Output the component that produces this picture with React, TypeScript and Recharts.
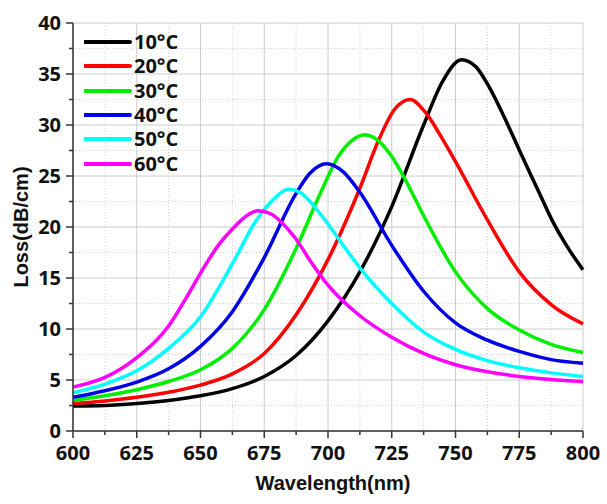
import React from 'react';
import { LineChart, Line, XAxis, YAxis, CartesianGrid, Legend } from 'recharts';

// wavelength (nm) and loss (dB/cm) points
const wl10C = [600, 612.5, 625, 637.5, 650, 662.5, 675, 687.5, 700, 712.5, 725, 737.5, 745, 752.4, 758, 763, 770, 776, 782, 788, 794, 800];
const loss10C = [2.45, 2.5, 2.7, 3.0, 3.45, 4.15, 5.35, 7.4, 10.8, 15.6, 22.0, 30.0, 34.3, 36.4, 35.7, 33.8, 30.3, 27.0, 23.8, 20.6, 18.0, 15.8];

const wl20C = [600, 612.5, 625, 637.5, 650, 662.5, 675, 687.5, 700, 712.5, 720, 726, 732.2, 738, 744, 750, 762.5, 775, 787.5, 800];
const loss20C = [2.7, 2.95, 3.3, 3.8, 4.5, 5.6, 7.6, 11.4, 16.8, 23.8, 28.6, 31.5, 32.5, 31.3, 29.0, 26.4, 20.7, 15.6, 12.4, 10.5];

const wl30C = [600, 612.5, 625, 637.5, 650, 662.5, 675, 687.5, 697, 704, 709, 714.5, 720, 725, 731, 737.5, 750, 762.5, 775, 787.5, 800];
const loss30C = [3.0, 3.45, 4.05, 4.85, 6.0, 8.1, 11.9, 17.9, 23.3, 26.9, 28.4, 29.05, 28.4, 26.9, 24.3, 21.1, 15.6, 12.0, 9.9, 8.5, 7.7];

const wl40C = [600, 612.5, 625, 637.5, 650, 662.5, 675, 687.5, 693, 699.5, 706, 712.5, 725, 737.5, 750, 762.5, 775, 787.5, 800];
const loss40C = [3.3, 3.95, 4.8, 6.1, 8.3, 11.7, 17.0, 23.3, 25.3, 26.2, 25.4, 23.4, 18.2, 13.7, 10.6, 8.9, 7.8, 7.0, 6.65];

const wl50C = [600, 612.5, 625, 637.5, 650, 662.5, 672, 678.6, 684.4, 689, 694, 700, 706, 712.5, 725, 737.5, 750, 762.5, 775, 787.5, 800];
const loss50C = [3.75, 4.6, 5.9, 8.1, 11.2, 16.4, 20.7, 22.7, 23.7, 23.4, 22.2, 20.3, 18.2, 16.0, 12.5, 9.7, 8.0, 6.9, 6.2, 5.7, 5.35];

const wl60C = [600, 612.5, 625, 637.5, 645, 651, 657, 662.5, 667.5, 672.5, 677.5, 682, 687.5, 693, 700, 712.5, 725, 737.5, 750, 762.5, 775, 787.5, 800];
const loss60C = [4.3, 5.25, 7.2, 10.3, 13.3, 15.9, 18.2, 19.8, 21.0, 21.6, 21.3, 20.4, 18.8, 16.7, 14.3, 11.3, 9.2, 7.6, 6.5, 5.8, 5.35, 5.05, 4.85];

const xMajor = [600, 625, 650, 675, 700, 725, 750, 775, 800];
const xMinor = [612.5, 637.5, 662.5, 687.5, 712.5, 737.5, 762.5, 787.5];
const yMajor = [0, 5, 10, 15, 20, 25, 30, 35, 40];
const yMinor = [2.5, 7.5, 12.5, 17.5, 22.5, 27.5, 32.5, 37.5];
const xAllTicks = [...xMajor, ...xMinor].sort((a, b) => a - b);
const yAllTicks = [...yMajor, ...yMinor].sort((a, b) => a - b);

const toPoints = (wl: number[], loss: number[]) => wl.map((w, i) => ({ wl: w, loss: loss[i] }));

const series = [
  { name: '10°C', color: '#000000', data: toPoints(wl10C, loss10C) },
  { name: '20°C', color: '#ff0000', data: toPoints(wl20C, loss20C) },
  { name: '30°C', color: '#00ee00', data: toPoints(wl30C, loss30C) },
  { name: '40°C', color: '#0000e6', data: toPoints(wl40C, loss40C) },
  { name: '50°C', color: '#00ffff', data: toPoints(wl50C, loss50C) },
  { name: '60°C', color: '#ff00ff', data: toPoints(wl60C, loss60C) },
];

const tickFont = "'Open Sans', sans-serif";
const titleFont = "'Liberation Sans', Arial, sans-serif";
const axisColor = '#333';

const BottomTick = ({ x, y, payload }: any) => {
  const major = payload.value % 25 === 0;
  return (
    <g>
      <line x1={x} x2={x} y1={y} y2={y + (major ? 7 : 4)} stroke={axisColor} strokeWidth={1.5} />
      {major && (
        <text x={x} y={y + 29} textAnchor="middle" fontFamily={tickFont} fontWeight={700} fontSize={20} fill="#111">
          {payload.value}
        </text>
      )}
    </g>
  );
};

const LeftTick = ({ x, y, payload }: any) => {
  const major = payload.value % 5 === 0;
  return (
    <g>
      <line x1={x - (major ? 7 : 4)} x2={x} y1={y} y2={y} stroke={axisColor} strokeWidth={1.5} />
      {major && (
        <text x={x - 12} y={y} dy="0.36em" textAnchor="end" fontFamily={tickFont} fontWeight={700} fontSize={20} fill="#111">
          {payload.value}
        </text>
      )}
    </g>
  );
};

const TopTick = ({ x, y }: any) => (
  <line x1={x} x2={x} y1={y} y2={y + 6} stroke={axisColor} strokeWidth={1.5} />
);

const RightTick = ({ x, y }: any) => (
  <line x1={x - 6} x2={x} y1={y} y2={y} stroke={axisColor} strokeWidth={1.5} />
);

const LegendBox = ({ payload }: any) => (
  <div>
    {(payload || []).map((item: any) => (
      <div key={item.value} style={{ display: 'flex', alignItems: 'center', height: 24.3 }}>
        <svg width={48} height={10}>
          <line x1={1} x2={46} y1={5} y2={5} stroke={item.color} strokeWidth={4} strokeLinecap="round" />
        </svg>
        <span style={{ fontFamily: tickFont, fontWeight: 700, fontSize: 20, color: '#111', marginLeft: 2, lineHeight: 1 }}>
          {item.value}
        </span>
      </div>
    ))}
  </div>
);

export default function App() {
  return (
    <div style={{ position: 'absolute', left: 0, top: 0, background: '#fff' }}>
      <LineChart width={607} height={504} margin={{ top: 23, right: 24, bottom: 4, left: 13 }}>
        {/* solid major grid, dotted minor grid */}
        <CartesianGrid
          xAxisId="x"
          yAxisId="y"
          verticalValues={xMajor}
          horizontalValues={yMajor}
          stroke="#cccccc"
        />
        <CartesianGrid
          xAxisId="x"
          yAxisId="y"
          zIndex={-99}
          verticalValues={xMinor}
          horizontalValues={yMinor}
          stroke="#d2d2d2"
          strokeDasharray="1 2"
        />
        <XAxis
          xAxisId="x"
          dataKey="wl"
          type="number"
          domain={[600, 800]}
          ticks={xAllTicks}
          interval={0}
          allowDuplicatedCategory={false}
          height={69}
          tickSize={0}
          tickMargin={0}
          tickLine={false}
          tick={<BottomTick />}
          axisLine={{ stroke: axisColor, strokeWidth: 1.5 }}
          label={{ value: 'Wavelength(nm)', position: 'insideBottom', offset: 10, dx: 5, style: { fontFamily: titleFont, fontWeight: 700, fontSize: 20, fill: '#111' } }}
        />
        <XAxis
          xAxisId="top"
          orientation="top"
          dataKey="wl"
          type="number"
          domain={[600, 800]}
          ticks={xAllTicks}
          interval={0}
          height={0}
          tickSize={0}
          tickMargin={0}
          tickLine={false}
          tick={<TopTick />}
          axisLine={{ stroke: axisColor, strokeWidth: 1.5 }}
        />
        <YAxis
          yAxisId="y"
          type="number"
          domain={[0, 40]}
          ticks={yAllTicks}
          interval={0}
          width={60}
          tickSize={0}
          tickMargin={0}
          tickLine={false}
          tick={<LeftTick />}
          axisLine={{ stroke: axisColor, strokeWidth: 1.5 }}
          label={{ value: 'Loss(dB/cm)', angle: -90, position: 'insideLeft', offset: 8, style: { textAnchor: 'middle', fontFamily: titleFont, fontWeight: 700, fontSize: 20, fill: '#111' } }}
        />
        <YAxis
          yAxisId="right"
          orientation="right"
          type="number"
          domain={[0, 40]}
          ticks={yAllTicks}
          interval={0}
          width={0}
          tickSize={0}
          tickMargin={0}
          tickLine={false}
          tick={<RightTick />}
          axisLine={{ stroke: axisColor, strokeWidth: 1.5 }}
        />
        <Legend
          layout="vertical"
          align="center"
          verticalAlign="middle"
          wrapperStyle={{ left: 84, top: 30, width: 'auto', height: 'auto' }}
          content={<LegendBox />}
        />
        {series.map((s) => (
          <Line
            key={s.name}
            xAxisId="x"
            yAxisId="y"
            data={s.data}
            dataKey="loss"
            name={s.name}
            type="monotone"
            stroke={s.color}
            strokeWidth={3.5}
            dot={false}
            activeDot={false}
            isAnimationActive={false}
          />
        ))}
      </LineChart>
    </div>
  );
}
